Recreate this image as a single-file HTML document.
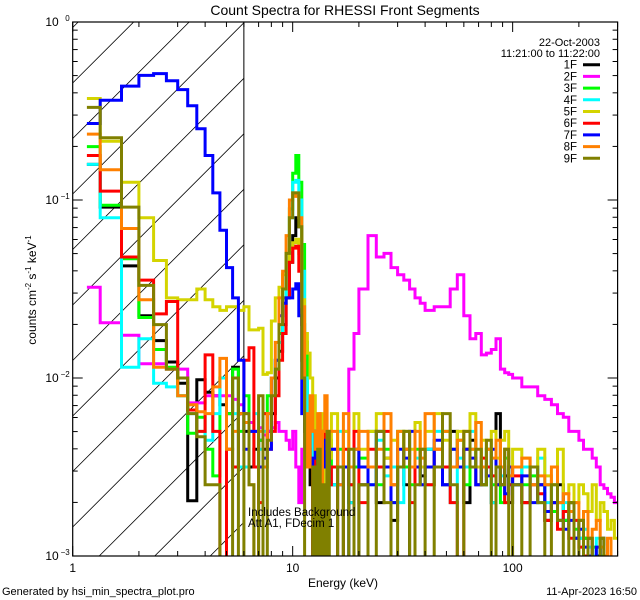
<!DOCTYPE html>
<html><head><meta charset="utf-8"><style>
html,body{margin:0;padding:0;background:#fff;width:640px;height:600px;overflow:hidden;}
svg{display:block;font-family:"Liberation Sans",sans-serif;overflow:hidden;}
</style></head><body>
<svg id="chart" width="640" height="600" viewBox="0 0 640 600" xmlns="http://www.w3.org/2000/svg">
<rect x="0" y="0" width="640" height="600" fill="#fff"/>
<text x="345" y="15" font-size="14" text-anchor="middle">Count Spectra for RHESSI Front Segments</text>
<g id="marks"></g>
<g id="axes"></g>
<text x="600" y="46" font-size="11" text-anchor="end">22-Oct-2003</text>
<text x="600" y="57" font-size="11" text-anchor="end">11:21:00 to 11:22:00</text>
<g id="legend"></g>
<text x="248" y="516" font-size="11.5">Includes Background</text>
<text x="248" y="527" font-size="11.5">Att A1, FDecim 1</text>
<text x="343" y="587" font-size="12" text-anchor="middle">Energy (keV)</text>
<text transform="translate(36,290) rotate(-90)" font-size="12" text-anchor="middle">counts cm<tspan dy="-5" font-size="8">-2</tspan><tspan dy="5"> s</tspan><tspan dy="-5" font-size="8">-1</tspan><tspan dy="5"> keV</tspan><tspan dy="-5" font-size="8">-1</tspan></text>
<text x="2" y="595" font-size="11">Generated by hsi_min_spectra_plot.pro</text>
<text x="637" y="595" font-size="11" text-anchor="end">11-Apr-2023 16:50</text>
</svg>
<script>
// ---- data ----
var binEdges = [1.16,1.333,1.667,2,2.333,2.667,3,3.333,3.667,4,4.333,4.667,5,5.333,5.667,6,
6.333,6.667,7,7.333,7.667,8,8.333,8.667,9,9.333,9.667,10,10.333,10.667,11,11.333,11.667,12,12.333,12.667,13,13.333,13.667,14,14.333,14.667,15,
16,17,18,19,20,22,24,26,28,30,32,34,36,38,40,44,48,52,56,60,64,68,72,76,80,84,88,92,96,100,
110,120,130,140,150,160,170,180,190,200,210,220,230,240,250,260,270,280,290,300];
var seriesNames = ["1F","2F","3F","4F","5F","6F","7F","8F","9F"];
var seriesColors = ["#000000","#ff00ff","#00ff00","#00ffff","#d4d400","#ff0000","#0000ff","#ff8000","#808000"];
var xTickLabels = ["1","10","100"];
var xTickValues = [1,10,100];
var yTickExps = [0,-1,-2,-3];
// log10(counts) per bin; -4 = no counts (below axis)
var log1F = [-0.80,-1.04,-1.37,-1.65,-1.79,-1.91,-2.03,-2.69,-2.01,-2.08,-2.1,-2.15,-2.2,-1.94,-2.2,
-2.3,-2.5,-2.4,-2.35,-2.4,-2.3,-2.2,-2.0,-1.85,-1.7,-1.55,-1.35,-1.2,-1.1,-1.15,-1.7,-2.3,-2.5,-2.6,-4,-2.5,-2.6,-4,-2.4,-2.7,-2.5,-2.6,
-2.6,-4,-2.5,-2.7,-4,-2.6,-2.5,-2.7,-2.45,-2.8,-2.5,-2.6,-4,-2.5,-2.55,-2.4,-2.5,-2.6,-2.3,-2.5,-2.7,-2.35,-2.5,-2.6,-2.5,-2.7,-2.2,-2.6,-2.55,-2.7,
-2.6,-2.7,-2.5,-2.6,-2.8,-2.7,-2.6,-2.8,-2.7,-2.9,-2.8,-2.9,-2.9,-3.0,-3.0,-2.9,-4,-3.1,-4,-4];
var log2F = [-1.49,-1.69,-1.76,-1.92,-1.92,-1.95,-1.95,-2.14,-2.14,-2.1,-2.1,-2.1,-2.1,-2.12,-2.15,
-2.2,-2.25,-2.3,-2.28,-2.32,-2.3,-2.28,-2.25,-2.3,-2.3,-2.35,-2.4,-2.3,-2.5,-2.7,-2.4,-2.3,-2.2,-2.4,-2.3,-2.25,-2.35,-2.4,-2.45,-2.5,-2.55,-2.4,
-2.4,-2.5,-2.3,-1.95,-1.75,-1.5,-1.2,-1.32,-1.3,-1.38,-1.42,-1.45,-1.5,-1.55,-1.58,-1.62,-1.6,-1.6,-1.5,-1.42,-1.65,-1.78,-1.75,-1.87,-1.86,-1.84,-1.78,-1.95,-1.97,-1.98,
-2.0,-2.05,-2.05,-2.1,-2.12,-2.15,-2.2,-2.22,-2.3,-2.3,-2.35,-2.4,-2.4,-2.45,-2.5,-2.6,-2.62,-2.65,-2.67,-2.7];
var log3F = [-0.70,-1.03,-1.33,-1.66,-1.84,-1.94,-2.1,-2.31,-2.22,-2.4,-2.55,-2.0,-2.2,-1.95,-2.3,
-2.1,-2.3,-2.5,-2.35,-2.2,-2.1,-2.0,-1.9,-1.75,-1.55,-1.3,-1.05,-0.85,-0.75,-0.9,-1.25,-1.8,-2.2,-2.45,-2.4,-2.5,-2.3,-4,-2.5,-2.4,-2.6,-2.35,
-2.5,-2.4,-4,-2.6,-2.5,-2.45,-2.3,-2.6,-2.4,-2.7,-2.3,-2.5,-2.6,-2.4,-2.5,-2.6,-2.5,-2.3,-2.4,-2.35,-2.6,-2.4,-2.5,-2.6,-2.4,-2.6,-2.5,-2.7,-2.45,-2.6,
-2.5,-2.6,-2.55,-2.7,-2.6,-2.75,-2.7,-2.8,-2.7,-2.85,-2.9,-2.9,-3.0,-2.95,-3.1,-3.0,-4,-3.05,-4,-4];
var log4F = [-0.80,-1.1,-1.94,-1.78,-2.03,-2.05,-2.1,-2.2,-2.3,-2.35,-2.2,-2.0,-2.4,-2.2,-2.5,
-2.5,-2.3,-2.2,-2.4,-2.3,-2.2,-2.0,-1.9,-1.8,-1.6,-1.35,-1.1,-0.9,-0.89,-1.0,-1.4,-2.0,-2.4,-2.3,-2.5,-2.4,-2.6,-2.3,-2.5,-2.4,-2.3,-2.5,
-2.6,-2.3,-2.5,-2.7,-2.4,-2.5,-2.6,-2.35,-2.55,-2.5,-2.7,-2.4,-2.5,-2.45,-2.6,-2.4,-2.3,-2.5,-2.7,-2.45,-2.5,-2.3,-2.6,-2.5,-2.4,-2.7,-2.5,-2.55,-2.4,-2.6,
-2.6,-2.5,-2.6,-2.45,-2.7,-2.6,-2.8,-2.7,-2.75,-2.8,-2.9,-2.85,-2.95,-3.0,-2.9,-3.05,-3.1,-4,-3.1,-4];
var log5F = [-0.43,-0.67,-0.90,-1.10,-1.34,-1.55,-1.56,-1.56,-1.50,-1.56,-1.6,-1.62,-1.6,-1.6,-1.62,
-1.6,-1.73,-1.73,-1.72,-1.98,-1.97,-1.68,-1.55,-1.49,-1.42,-1.35,-1.28,-1.24,-1.22,-1.3,-1.56,-1.75,-1.86,-2.0,-2.1,-2.3,-2.5,-2.2,-2.4,-2.6,-2.3,-2.45,
-2.2,-2.5,-2.3,-2.6,-2.2,-2.4,-2.3,-2.2,-2.45,-2.35,-2.5,-2.3,-2.4,-2.25,-2.5,-2.3,-2.2,-2.35,-2.5,-2.3,-2.4,-2.2,-2.5,-2.35,-2.4,-2.3,-2.45,-2.35,-2.3,-2.5,
-2.4,-2.45,-2.5,-2.4,-2.55,-2.6,-2.4,-2.65,-2.6,-2.7,-2.6,-2.65,-2.75,-2.6,-2.8,-2.7,-2.75,-2.85,-2.8,-2.9];
var log6F = [-0.75,-0.95,-1.32,-1.45,-1.64,-1.57,-2.0,-2.18,-2.3,-1.87,-2.3,-4,-2.4,-2.5,-2.2,
-1.9,-1.83,-2.5,-2.7,-2.2,-2.4,-2.3,-2.1,-1.9,-1.75,-1.55,-1.35,-1.27,-1.26,-1.4,-1.9,-2.3,-2.4,-2.5,-4,-2.3,-2.4,-2.6,-2.3,-2.5,-2.4,-2.6,
-2.5,-4,-2.4,-2.6,-2.3,-2.7,-2.4,-2.5,-2.3,-2.6,-2.5,-2.4,-2.7,-2.5,-2.4,-2.6,-2.4,-2.5,-2.7,-4,-2.4,-2.5,-2.6,-2.45,-2.5,-2.55,-2.6,-2.5,-2.7,-2.6,
-2.55,-2.7,-2.6,-2.65,-2.8,-2.7,-2.85,-2.75,-2.9,-2.8,-2.95,-3.0,-2.9,-3.05,-4,-3.1,-4,-3.1,-4,-4];
var log7F = [-0.57,-0.44,-0.36,-0.30,-0.29,-0.33,-0.38,-0.47,-0.60,-0.75,-0.96,-1.17,-1.38,-1.55,-1.9,
-2.4,-2.3,-2.3,-2.5,-2.45,-2.4,-2.0,-1.9,-1.65,-1.58,-1.55,-1.55,-1.5,-1.47,-1.65,-2.2,-2.3,-2.3,-2.5,-2.45,-2.3,-2.6,-2.4,-2.5,-2.35,-2.6,-2.4,
-2.4,-2.6,-2.5,-4,-2.4,-2.5,-2.6,-2.3,-2.5,-2.7,-2.4,-2.45,-2.3,-2.5,-2.6,-2.5,-2.35,-2.6,-2.4,-2.5,-2.4,-2.45,-2.6,-2.5,-2.55,-2.4,-2.6,-2.5,-2.65,-2.5,
-2.6,-2.55,-2.7,-2.6,-2.75,-2.7,-2.8,-2.85,-2.8,-2.9,-2.85,-2.95,-3.0,-3.1,-2.95,-4,-3.1,-4,-4,-4];
var log8F = [-0.63,-0.83,-1.16,-1.56,-1.94,-1.95,-2.1,-2.15,-2.19,-2.2,-2.05,-1.89,-2.4,-2.3,-2.2,
-2.25,-2.6,-4,-2.3,-2.5,-2.2,-2.0,-1.8,-1.55,-1.4,-1.2,-1.0,-0.96,-0.98,-1.1,-1.6,-2.2,-2.5,-2.1,-2.3,-2.4,-2.2,-2.6,-2.3,-2.1,-2.4,-2.3,
-2.3,-2.6,-2.2,-2.5,-2.4,-2.3,-2.5,-2.4,-2.2,-2.6,-2.3,-2.4,-2.5,-2.3,-2.45,-2.2,-2.4,-2.3,-2.5,-2.35,-2.3,-2.4,-2.25,-2.5,-2.4,-2.45,-2.35,-2.5,-2.4,-2.55,
-2.5,-2.45,-2.6,-2.55,-2.6,-2.5,-2.7,-2.65,-2.75,-2.7,-2.8,-2.75,-2.9,-2.85,-2.8,-2.95,-3.0,-2.9,-4,-4];
var log9F = [-0.48,-0.65,-1.04,-1.48,-1.70,-1.95,-2.0,-2.2,-2.33,-2.6,-2.6,-4,-4,-2.0,-4,
-2.2,-2.6,-4,-2.1,-4,-2.35,-2.1,-1.95,-1.7,-1.5,-1.3,-1.1,-0.96,-0.96,-1.15,-2.0,-4,-4,-4,-2.5,-4,-2.4,-4,-2.6,-4,-2.3,-4,
-4,-2.5,-4,-2.4,-4,-2.6,-4,-2.3,-2.7,-4,-2.5,-2.3,-4,-2.6,-2.4,-4,-2.5,-2.2,-2.6,-4,-2.3,-2.5,-2.4,-2.6,-2.35,-4,-2.5,-2.6,-2.4,-4,
-2.6,-4,-2.5,-2.7,-4,-2.6,-2.8,-4,-2.7,-4,-2.8,-4,-2.9,-4,-4,-2.9,-4,-4,-4,-4];
var allSeries = [log1F,log2F,log3F,log4F,log5F,log6F,log7F,log8F,log9F];

// ---- axes ----
var NS = "http://www.w3.org/2000/svg";
var L = 72.7, R = 617.6, T = 22, B = 556;
var xMin = 1, xMax = 300, yMinExp = -3, yMaxExp = 0;
function xs(e){ return L + (Math.log10(e) - Math.log10(xMin)) / (Math.log10(xMax) - Math.log10(xMin)) * (R - L); }
function ysExp(p){ return T + (yMaxExp - p) / (yMaxExp - yMinExp) * (B - T); }
function mk(tag, attrs, parent){ var el = document.createElementNS(NS, tag); for (var k in attrs) el.setAttribute(k, attrs[k]); parent.appendChild(el); return el; }

var svg = document.getElementById('chart');
var defs = mk('defs', {}, svg);
var cp = mk('clipPath', {id:'plotclip'}, defs);
mk('rect', {x:L, y:T, width:R-L, height:B-T}, cp);
var hc = mk('clipPath', {id:'hatchclip'}, defs);
var xAtt = xs(6);
mk('rect', {x:L, y:T, width:xAtt-L, height:B-T}, hc);

var marks = document.getElementById('marks');
var hatch = mk('g', {'clip-path':'url(#hatchclip)'}, marks);


for (var c = 305 - 55.5*6; c < 900; c += 55.5) {
  var y1 = Math.min(c, B), x1h = L + (c - y1);
  var x2h = Math.min(xAtt, L + (c - T)), y2h = c - (x2h - L);
  if (x1h >= xAtt || y2h > B) continue;
  mk('line', {x1:x1h, y1:y1, x2:x2h, y2:y2h, stroke:'#000', 'stroke-width':0.8}, hatch);
}
var vl = mk('line', {x1:xAtt, y1:T, x2:xAtt, y2:B, stroke:'#000', 'stroke-width':1}, marks);



var sg = mk('g', {'clip-path':'url(#plotclip)'}, marks);
for (var s = 0; s < allSeries.length; s++) {
  var vals = allSeries[s];
  var d = '';
  for (var i = 0; i < vals.length; i++) {
    var y = vals[i] <= -3.9 ? B + 3 : ysExp(vals[i]);
    var x0 = xs(binEdges[i]), x1 = xs(binEdges[i+1]);
    d += (i === 0 ? 'M' : 'L') + x0.toFixed(1) + ' ' + y.toFixed(1) + ' L' + x1.toFixed(1) + ' ' + y.toFixed(1) + ' ';
  }
  var p = mk('path', {d:d, fill:'none', stroke:seriesColors[s], 'stroke-width':3, 'stroke-linejoin':'miter'}, sg);
  
  
}

var ax = document.getElementById('axes');
var fr = mk('rect', {x:L, y:T, width:R-L, height:B-T, fill:'none', stroke:'#000', 'stroke-width':1.2}, ax);


for (var dec = 1; dec <= 100; dec *= 10) {
  for (var m = 1; m <= 9; m++) {
    var e = dec * m; if (e > xMax) break;
    var xx = xs(e), len = (m === 1) ? 10 : 5;
    mk('line', {x1:xx, y1:B, x2:xx, y2:B-len, stroke:'#000', 'stroke-width':1}, ax);
    mk('line', {x1:xx, y1:T, x2:xx, y2:T+len, stroke:'#000', 'stroke-width':1}, ax);
  }
}
for (var k = 0; k < xTickValues.length; k++) {
  var t = mk('text', {x:xs(xTickValues[k]), y:572, 'font-size':12, 'text-anchor':'middle'}, ax);
  
  
  t.textContent = xTickLabels[k];
}
for (var pe = -3; pe < 0; pe++) {
  for (var m2 = 1; m2 <= 9; m2++) {
    var yy = ysExp(pe + Math.log10(m2)), ln2 = (m2 === 1) ? 10 : 5;
    mk('line', {x1:L, y1:yy, x2:L+ln2, y2:yy, stroke:'#000', 'stroke-width':1}, ax);
    mk('line', {x1:R, y1:yy, x2:R-ln2, y2:yy, stroke:'#000', 'stroke-width':1}, ax);
  }
}
for (var q = 0; q < yTickExps.length; q++) {
  var ty = ysExp(yTickExps[q]);
  var tt = mk('text', {x:L-14, y:ty+4, 'font-size':12, 'text-anchor':'end'}, ax);
  
  
  tt.textContent = '10';
  var sup = mk('text', {x:L-3, y:ty-1, 'font-size':8, 'text-anchor':'end'}, ax);
  
  
  sup.textContent = yTickExps[q] === 0 ? '0' : '\u2212' + (-yTickExps[q]);
}

var lg = document.getElementById('legend');
for (var n = 0; n < seriesNames.length; n++) {
  var ly = 64.7 + n * 11.7;
  var lt = mk('text', {x:577, y:ly+4, 'font-size':11.5, 'text-anchor':'end'}, lg);
  
  
  lt.textContent = seriesNames[n];
  var ll = mk('line', {x1:583, y1:ly, x2:600, y2:ly, stroke:seriesColors[n], 'stroke-width':3}, lg);
  
  
}
</script>
</body></html>
